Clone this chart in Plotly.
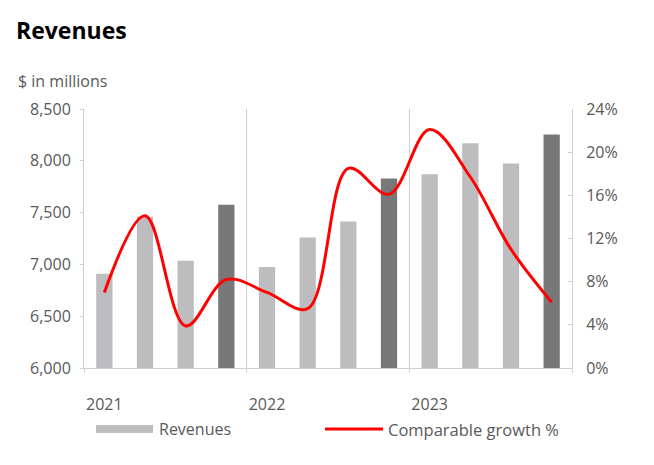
import plotly.graph_objects as go

quarters = ["Q1 2021", "Q2 2021", "Q3 2021", "Q4 2021",
            "Q1 2022", "Q2 2022", "Q3 2022", "Q4 2022",
            "Q1 2023", "Q2 2023", "Q3 2023", "Q4 2023"]
revenues = [6910, 7460, 7035, 7575, 6975, 7260, 7415, 7830, 7870, 8170, 7975, 8255]
growth = [0.070, 0.141, 0.039, 0.082, 0.070, 0.055, 0.185, 0.161, 0.221, 0.177, 0.110, 0.061]
year_labels = ["2021", "2022", "2023"]
year_positions = [0, 4, 8]
year_bounds = [-0.5, 3.5, 7.5, 11.5]

light = "#bdbcbe"
dark = "#787878"
bar_colors = [dark if i % 4 == 3 else light for i in range(len(quarters))]
x = list(range(len(quarters)))

FONT = "Open Sans"
TXT = "#595959"
AX = "#d0d0d0"

fig = go.Figure()
fig.add_trace(go.Bar(x=x, y=revenues, marker=dict(color=bar_colors, line=dict(width=0)),
                     width=0.4, name="Revenues", showlegend=False, hoverinfo="y"))
fig.add_trace(go.Scatter(x=x, y=growth, mode="lines", yaxis="y2",
                         line=dict(color="#ff0000", width=3, shape="spline", smoothing=1.0),
                         name="Comparable growth %", showlegend=False))

OFF = 8  # page body margin
W, H = 654 - OFF, 465 - OFF
L, R, T, B = 84, 572, 109, 368  # in window pixels
def px(v): return (v - L) / (R - L)
def py(v): return (B - v) / (B - T)

fig.update_layout(
    width=W, height=H,
    margin=dict(l=L - OFF, r=654 - R, t=T - OFF, b=465 - B),
    plot_bgcolor="white", paper_bgcolor="white",
    font=dict(family=FONT, size=16, color=TXT),
    title=dict(text="<b>Revenues</b>", x=(16 - OFF) / W, xanchor="left", xref="container",
               y=1 - (31 - OFF) / H, yanchor="middle", yref="container",
               font=dict(family=FONT, size=23, color="#000000")),
    xaxis=dict(range=[-0.5, 11.5], tickmode="array", tickvals=year_positions, ticktext=year_labels,
               ticks="", showgrid=False, showline=True, linecolor=AX, linewidth=1,
               ticklabelstandoff=22, zeroline=False,
               minor=dict(tickmode="array", tickvals=year_bounds, ticks="outside", ticklen=4,
                          tickcolor=AX, showgrid=True, gridcolor=AX, gridwidth=1)),
    yaxis=dict(range=[6000, 8500], dtick=500, tickformat=",", showgrid=False, zeroline=False,
               showline=True, linecolor=AX, ticks="outside", ticklen=3, tickcolor=AX,
               ticklabelstandoff=6),
    yaxis2=dict(range=[0, 0.24], dtick=0.04, tickformat=".0%", overlaying="y", side="right",
                showgrid=False, zeroline=False, showline=True, linecolor=AX,
                ticks="inside", ticklen=4, tickcolor=AX, ticklabelstandoff=10),
    bargap=0.6,
    shapes=[
        dict(type="rect", xref="paper", yref="paper", x0=px(96), x1=px(153), y0=py(433), y1=py(425),
             fillcolor=light, line=dict(width=0)),
        dict(type="line", xref="paper", yref="paper", x0=px(325), x1=px(383), y0=py(429), y1=py(429),
             line=dict(color="#ff0000", width=3)),
    ],
    annotations=[
        dict(text="$ in millions", xref="paper", yref="paper", x=px(16), y=py(81),
             xanchor="left", yanchor="middle", showarrow=False, font=dict(size=16, color=TXT)),
        dict(text="Revenues", xref="paper", yref="paper", x=px(157), y=py(429),
             xanchor="left", yanchor="middle", showarrow=False, font=dict(size=16, color=TXT)),
        dict(text="Comparable growth %", xref="paper", yref="paper", x=px(386), y=py(429),
             xanchor="left", yanchor="middle", showarrow=False, font=dict(size=16.5, color=TXT)),
    ],
)

fig.write_html("out.html")
